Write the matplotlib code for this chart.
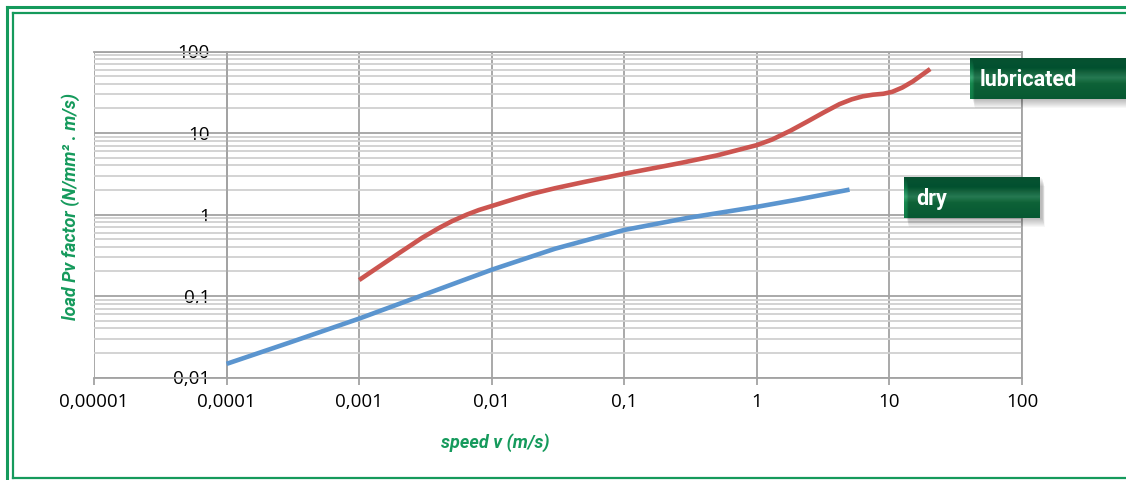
import numpy as np
import matplotlib.pyplot as plt
from matplotlib.patches import Rectangle
from matplotlib.lines import Line2D
from matplotlib.colors import LinearSegmentedColormap

# valores (escala log-log)
dry_v = [0.0001, 0.0003, 0.001, 0.003, 0.01, 0.03, 0.1, 0.3, 1, 2, 5]
dry_pv = [0.0147, 0.0269, 0.0528, 0.102, 0.21, 0.38, 0.646, 0.908, 1.242, 1.518, 2.02]

lub_v = [0.001, 0.002, 0.003, 0.004, 0.005, 0.0065, 0.008, 0.01, 0.015, 0.02,
         0.03, 0.05, 0.1, 0.265, 0.5, 1, 1.3, 1.79, 2.4, 3.2, 4.2, 5.2, 6.3,
         7.5, 9, 10.5, 12.5, 15, 20.3]
lub_pv = [0.157, 0.336, 0.52, 0.683, 0.826, 0.998, 1.135, 1.27, 1.56, 1.79,
          2.1, 2.51, 3.16, 4.28, 5.31, 7.1, 8.3, 10.66, 13.8, 17.9, 22.6, 25.9, 28.2,
          29.5, 30.3, 32.0, 36.1, 42.9, 61.0]

x_ticks = [1e-5, 1e-4, 1e-3, 1e-2, 1e-1, 1, 10, 100]
x_labels = ['0,00001', '0,0001', '0,001', '0,01', '0,1', '1', '10', '100']
y_ticks = [0.01, 0.1, 1, 10, 100]
y_labels = ['0,01', '0,1', '1', '10', '100']

W, H = 1126, 480
verde = '#159a5c'
gris = '#a3a3a3'

plt.rcParams['font.family'] = ['Open Sans', 'DejaVu Sans']
fig = plt.figure(figsize=(W / 100, H / 100), dpi=100)

# marco doble verde
def fx(px):
    return px / W

def fy(py):
    return 1 - py / H

fig.add_artist(Line2D([fx(7), fx(7)], [fy(7), fy(490)], color=verde, lw=2.2))
fig.add_artist(Line2D([fx(7), fx(1140)], [fy(7), fy(7)], color=verde, lw=2.2))
fig.add_artist(Line2D([fx(12.5), fx(12.5)], [fy(12.5), fy(477.5)], color=verde, lw=1.6))
fig.add_artist(Line2D([fx(12.5), fx(1140)], [fy(12.5), fy(12.5)], color=verde, lw=1.6))
fig.add_artist(Line2D([fx(12.5), fx(1140)], [fy(477.5), fy(477.5)], color=verde, lw=1.6))

ax = fig.add_axes([fx(94), fy(377.5), fx(1022) - fx(94), fy(51.5) - fy(377.5)])
ax.set_xscale('log')
ax.set_yscale('log')
ax.set_xlim(1e-5, 100)
ax.set_ylim(0.01, 100)

ax.plot(dry_v, dry_pv, color='#5b95cf', lw=3.3, solid_capstyle='butt',
        solid_joinstyle='round', zorder=5)
ax.plot(lub_v, lub_pv, color='#cc5550', lw=3.3, solid_capstyle='butt',
        solid_joinstyle='round', zorder=5)

ax.set_xticks(x_ticks)
ax.set_xticklabels(x_labels)
ax.set_yticks(y_ticks)
ax.set_yticklabels(y_labels)
ax.xaxis.set_minor_locator(plt.NullLocator())
ax.yaxis.set_minor_locator(plt.LogLocator(base=10, subs=np.arange(2, 10)))
ax.yaxis.set_minor_formatter(plt.NullFormatter())

ax.grid(True, which='major', color=gris, lw=1.3)
ax.grid(True, which='minor', axis='y', color='#d0d0d0', lw=1.3)
ax.set_axisbelow(True)

for s in ax.spines.values():
    s.set_color(gris)
    s.set_linewidth(1.3)
ax.spines['left'].set_position(('data', 1e-4))

ax.tick_params(axis='x', which='major', length=5, width=1.3, color=gris,
               labelsize=13.5, pad=6, labelcolor='black')
ax.tick_params(axis='y', which='both', length=0, labelsize=13.5, pad=12,
               labelcolor='black')

# títulos de ejes
fuente_ejes = dict(family=['Roboto', 'DejaVu Sans'], stretch='condensed',
                   weight='bold', style='italic', color=verde, fontsize=13)
fig.text(fx(495), fy(443), 'speed v (m/s)', ha='center', va='center', **fuente_ejes)
fig.text(fx(71), fy(206), 'load Pv factor (N/mm² . m/s)', ha='center', va='center',
         rotation=90, **fuente_ejes)

# etiquetas tipo botón verde
cmap = LinearSegmentedColormap.from_list('boton', [
    (0.0, '#075030'), (0.25, '#0b7344'), (0.48, '#3aa673'),
    (0.62, '#17894f'), (1.0, '#0f7a47')])
grad = np.linspace(0, 1, 64).reshape(-1, 1)

def boton(x0, y0, x1, y1, texto, tx):
    for k in range(9, 0, -1):
        fig.add_artist(Rectangle((fx(x0 + 2 + k * 0.3), fy(y1 + k)),
                                 fx(x1 - x0), fy(y0) - fy(y1),
                                 color='black', alpha=0.03, lw=0))
    bax = fig.add_axes([fx(x0), fy(y1), fx(x1) - fx(x0), fy(y0) - fy(y1)])
    bax.imshow(grad, aspect='auto', cmap=cmap, extent=[0, 1, 1, 0])
    bax.set_axis_off()
    fig.text(fx(tx), fy((y0 + y1) / 2 + 1), texto, ha='left', va='center',
             color='white', fontsize=15.5, weight='bold', stretch='condensed',
             family=['Roboto', 'DejaVu Sans'])

boton(970, 58, 1140, 99, 'lubricated', 980)
boton(904, 177, 1040, 218, 'dry', 916)

fig.savefig('out.png', dpi=100)
